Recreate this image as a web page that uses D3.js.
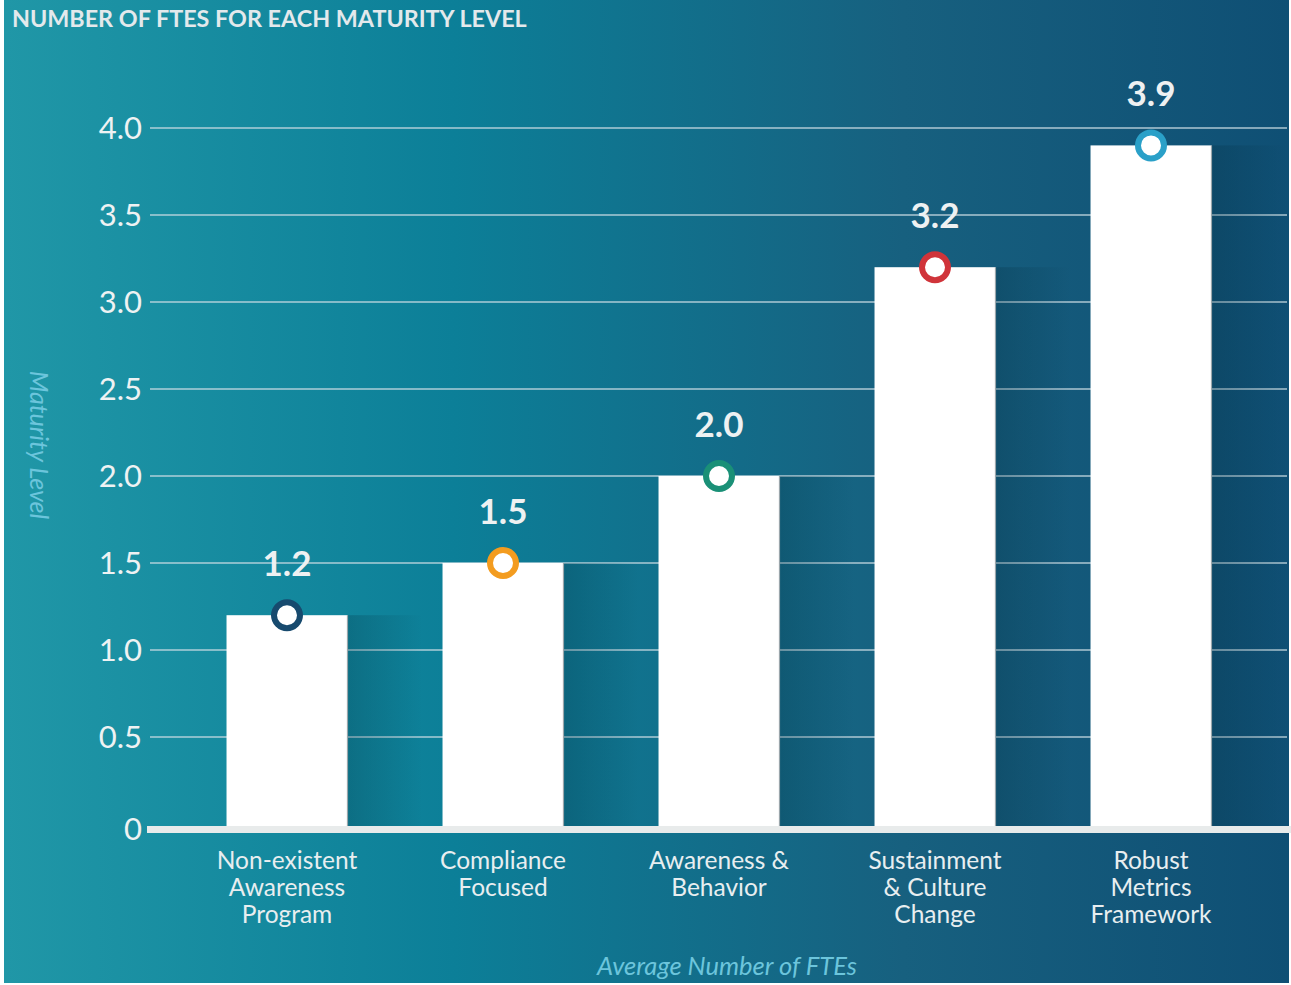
<!DOCTYPE html>
<html>
<head>
<meta charset="utf-8">
<script src="https://cdn.jsdelivr.net/npm/d3@7"></script>
<style>
  html, body { margin: 0; padding: 0; background: #ffffff; }
  svg { display: block; }
</style>
</head>
<body>
<svg id="chart" width="1291" height="985"></svg>
<script>
// ---- data ----
const categories = [
  ["Non-existent", "Awareness", "Program"],
  ["Compliance", "Focused"],
  ["Awareness &", "Behavior"],
  ["Sustainment", "& Culture", "Change"],
  ["Robust", "Metrics", "Framework"]
];
const values = [1.2, 1.5, 2.0, 3.2, 3.9];
const valueLabels = ["1.2", "1.5", "2.0", "3.2", "3.9"];
const markerColors = ["#174a6e", "#f39c1f", "#1a9077", "#d0343a", "#2aa0c8"];
const yTicks = [0, 0.5, 1.0, 1.5, 2.0, 2.5, 3.0, 3.5, 4.0];
const yTickLabels = ["0", "0.5", "1.0", "1.5", "2.0", "2.5", "3.0", "3.5", "4.0"];
const title = "NUMBER OF FTES FOR EACH MATURITY LEVEL";
const yTitle = "Maturity Level";
const xTitle = "Average Number of FTEs";

const FONT = "Lato, 'Noto Sans', 'DejaVu Sans', sans-serif";
const svg = d3.select("#chart");

const defs = svg.append("defs");
const bg = defs.append("linearGradient").attr("id", "bg").attr("x1", "0").attr("x2", "1").attr("y1", "0").attr("y2", "0");
[["0", "#2097a7"], ["0.35", "#0c7f98"], ["0.7", "#17607f"], ["1", "#0f4f74"]].forEach(s =>
  bg.append("stop").attr("offset", s[0]).attr("stop-color", s[1]));
const sh = defs.append("linearGradient").attr("id", "shadow").attr("x1", "0").attr("x2", "1").attr("y1", "0").attr("y2", "0");
sh.append("stop").attr("offset", "0").attr("stop-color", "#002838").attr("stop-opacity", 0.24);
sh.append("stop").attr("offset", "0.6").attr("stop-color", "#002838").attr("stop-opacity", 0.1);
sh.append("stop").attr("offset", "1").attr("stop-color", "#002838").attr("stop-opacity", 0);

svg.append("rect").attr("x", 4).attr("y", 0).attr("width", 1285).attr("height", 983).attr("fill", "url(#bg)");

// scales
const x = d3.scaleBand().domain(d3.range(values.length)).range([179, 1259]).paddingInner(0.44).paddingOuter(0.22);
const y = d3.scaleLinear().domain([0, 4]).range([824, 128]);

// gridlines
svg.append("g").selectAll("line").data(yTicks.filter(t => t > 0)).join("line")
  .attr("x1", 150).attr("x2", 1287)
  .attr("y1", d => y(d)).attr("y2", d => y(d))
  .attr("stroke", "#c9dbe2").attr("stroke-opacity", 0.85).attr("stroke-width", 1.6);

// y tick labels
svg.append("g").selectAll("text").data(yTicks).join("text")
  .attr("x", 142).attr("y", (d, i) => i === 0 ? y(d) + 5 : y(d))
  .attr("dy", "0.35em").attr("text-anchor", "end")
  .attr("font-family", FONT).attr("font-size", 31).attr("fill", "#eef2f3")
  .text((d, i) => yTickLabels[i]);

// shadows
svg.append("g").selectAll("rect").data(values).join("rect")
  .attr("x", (d, i) => x(i) + x.bandwidth())
  .attr("y", d => y(d))
  .attr("width", 75)
  .attr("height", d => y(0) + 2 - y(d))
  .attr("fill", "url(#shadow)");

// bars
svg.append("g").selectAll("rect").data(values).join("rect")
  .attr("x", (d, i) => x(i)).attr("y", d => y(d))
  .attr("width", x.bandwidth()).attr("height", d => y(0) + 2 - y(d))
  .attr("fill", "#ffffff");
svg.append("g").selectAll("line").data(values).join("line")
  .attr("x1", (d, i) => x(i) + x.bandwidth()).attr("x2", (d, i) => x(i) + x.bandwidth())
  .attr("y1", d => y(d)).attr("y2", y(0) + 2)
  .attr("stroke", "#9aa6ab").attr("stroke-width", 1.2);

// baseline
svg.append("rect").attr("x", 147).attr("y", y(0) + 2).attr("width", 1291 - 147).attr("height", 7).attr("fill", "#e8ebeb");

// markers
svg.append("g").selectAll("circle").data(values).join("circle")
  .attr("cx", (d, i) => x(i) + x.bandwidth() / 2).attr("cy", d => y(d))
  .attr("r", 13).attr("fill", "#ffffff")
  .attr("stroke", (d, i) => markerColors[i]).attr("stroke-width", 6);

// value labels
svg.append("g").selectAll("text").data(values).join("text")
  .attr("x", (d, i) => x(i) + x.bandwidth() / 2).attr("y", d => y(d) - 39)
  .attr("text-anchor", "middle").attr("font-family", FONT).attr("font-weight", 700)
  .attr("font-size", 35).attr("fill", "#eef1f2")
  .text((d, i) => valueLabels[i]);

// category labels
const cat = svg.append("g").selectAll("text").data(categories).join("text")
  .attr("text-anchor", "middle").attr("font-family", FONT).attr("font-size", 24.5).attr("fill", "#e8eef0");
cat.each(function(lines, i) {
  d3.select(this).selectAll("tspan").data(lines).join("tspan")
    .attr("x", x(i) + x.bandwidth() / 2)
    .attr("y", (l, j) => 869 + j * 27)
    .text(l => l);
});

// title
const t = svg.append("text").attr("x", 12).attr("y", 27)
  .attr("font-family", FONT).attr("font-weight", 700).attr("font-size", 22).attr("fill", "#e3e9ec")
  .text(title);
const tw = t.node().getComputedTextLength();
t.attr("font-size", 22 * 515 / tw);

// axis titles
svg.append("text").attr("transform", "translate(30,445) rotate(90)")
  .attr("text-anchor", "middle").attr("font-family", FONT).attr("font-style", "italic")
  .attr("font-size", 25).attr("fill", "#6cc5dc").text(yTitle);
svg.append("text").attr("x", 727).attr("y", 975)
  .attr("text-anchor", "middle").attr("font-family", FONT).attr("font-style", "italic")
  .attr("font-size", 25.5).attr("fill", "#6cc5dc").text(xTitle);
</script>
</body>
</html>
